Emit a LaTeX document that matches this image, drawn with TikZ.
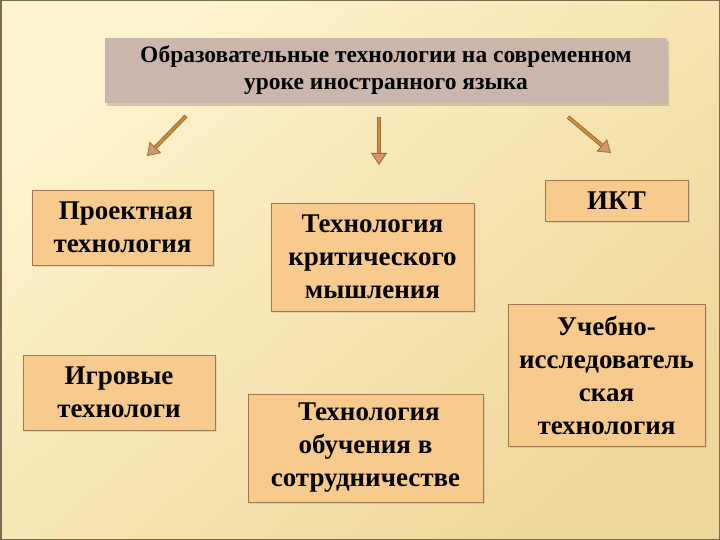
\documentclass[tikz,border=0pt]{standalone}
\usepackage{fontspec}
\setmainfont{Liberation Serif}
\usetikzlibrary{positioning,arrows.meta,shadows}

\definecolor{bglight}{RGB}{254,243,205}
\definecolor{bgdark}{RGB}{238,216,155}
\definecolor{framecol}{RGB}{125,105,75}
\definecolor{boxfill}{RGB}{248,202,142}
\definecolor{boxline}{RGB}{160,120,80}
\definecolor{titlefill}{RGB}{202,182,172}
\definecolor{arrowedge}{RGB}{160,108,45}
\definecolor{arrowcol}{RGB}{200,145,68}
\definecolor{tipcol}{RGB}{210,150,115}

\tikzset{
  techbox/.style={draw=boxline, fill=boxfill, line width=0.8pt, align=center,
    inner sep=0pt, font=\bfseries\fontsize{27}{33}\selectfont,
    drop shadow={opacity=0.2, shadow xshift=2pt, shadow yshift=-2pt}},
  titlebox/.style={fill=titlefill, align=center, inner sep=0pt,
    font=\bfseries\fontsize{23.5}{27}\selectfont,
    drop shadow={opacity=0.35, shadow xshift=2pt, shadow yshift=-3pt}},
  downarrow/.style={arrowedge, line width=4pt,
    -{Triangle[width=16pt, length=12pt, line width=0.8pt, fill=tipcol]}},
  arrowcore/.style={arrowcol, line width=2pt, shorten >=12pt}
}

\begin{document}
\begin{tikzpicture}[x=1pt, y=-1pt]
    % background
    \useasboundingbox (0,0) rectangle (720,540);
    \shade[top color=bglight, bottom color=bgdark, shading angle=40] (0,0) rectangle (720,540);
    \draw[framecol, line width=1.5pt] (0.75,0.75) rectangle (719.25,539.25);

    % heading
    \node[titlebox, minimum width=562pt, minimum height=65pt] (title) at (386,70.5)
        {Образовательные технологии на современном\\уроке иностранного языка};

    % kinds of technology
    \node[techbox, minimum width=181pt, minimum height=75pt] (proj) at (122.5,227.5)
        {\ Проектная\\технология};
    \node[techbox, minimum width=203pt, minimum height=108pt] (crit) at (372.5,257)
        {Технология\\критического\\мышления};
    \node[techbox, minimum width=143pt, minimum height=41pt] (ikt) at (616.5,200.5)
        {ИКТ};
    \node[techbox, minimum width=197pt, minimum height=142pt] (res) at (606.5,375)
        {Учебно-\\исследователь\\ская\\технология};
    \node[techbox, minimum width=192pt, minimum height=75pt] (game) at (119,392.5)
        {Игровые\\технологи};
    \node[techbox, minimum width=235pt, minimum height=108pt] (coop) at (365.5,448)
        {\ Технология\\обучения в\\сотрудничестве};

    % arrows under the heading
    \coordinate (ls) at (186,116);
    \coordinate (le) at (147,156);
    \coordinate (ms) at (379,117);
    \coordinate (me) at (379,165);
    \coordinate (rs) at (568,117);
    \coordinate (re) at (611,153);
    \foreach \s/\e in {ls/le, ms/me, rs/re} {
        \draw[downarrow] (\s) -- (\e);
        \draw[arrowcore] (\s) -- (\e);
    }
\end{tikzpicture}
\end{document}
